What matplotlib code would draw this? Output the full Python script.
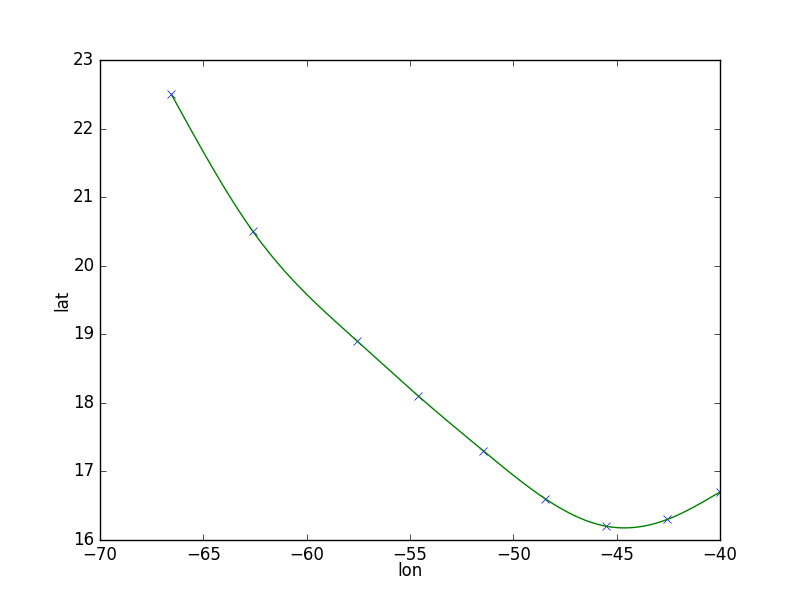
import numpy as np
import matplotlib
matplotlib.use("Agg")
import matplotlib.pyplot as plt

plt.style.use('classic')

# Track points
lon = [-66.55, -62.6, -57.55, -54.6, -51.45, -48.45, -45.5, -42.55, -40.0]
lat = [22.5, 20.5, 18.9, 18.1, 17.3, 16.6, 16.2, 16.3, 16.7]


def natural_spline(x, y, xs):
    # natural cubic spline through (x, y), evaluated at xs
    x = np.asarray(x, float)
    y = np.asarray(y, float)
    n = len(x)
    h = np.diff(x)
    A = np.zeros((n, n))
    b = np.zeros(n)
    A[0, 0] = A[-1, -1] = 1.0
    for i in range(1, n - 1):
        A[i, i - 1] = h[i - 1]
        A[i, i] = 2 * (h[i - 1] + h[i])
        A[i, i + 1] = h[i]
        b[i] = 3 * ((y[i + 1] - y[i]) / h[i] - (y[i] - y[i - 1]) / h[i - 1])
    c = np.linalg.solve(A, b)
    idx = np.clip(np.searchsorted(x, xs) - 1, 0, n - 2)
    dx = xs - x[idx]
    hi = h[idx]
    bb = (y[idx + 1] - y[idx]) / hi - hi * (2 * c[idx] + c[idx + 1]) / 3
    d = (c[idx + 1] - c[idx]) / (3 * hi)
    return y[idx] + bb * dx + c[idx] * dx ** 2 + d * dx ** 3


xs = np.linspace(lon[0], lon[-1], 300)
ys = natural_spline(lon, lat, xs)

fig = plt.figure(figsize=(8, 6), dpi=100)
ax = fig.add_subplot(111)
ax.plot(lon, lat, 'bx')
ax.plot(xs, ys, 'g-')
ax.set_xlim(-70, -40)
ax.set_ylim(16, 23)
ax.set_xlabel('lon', labelpad=-1)
ax.set_ylabel('lat', labelpad=1)

fig.savefig('out.png', dpi=100)
